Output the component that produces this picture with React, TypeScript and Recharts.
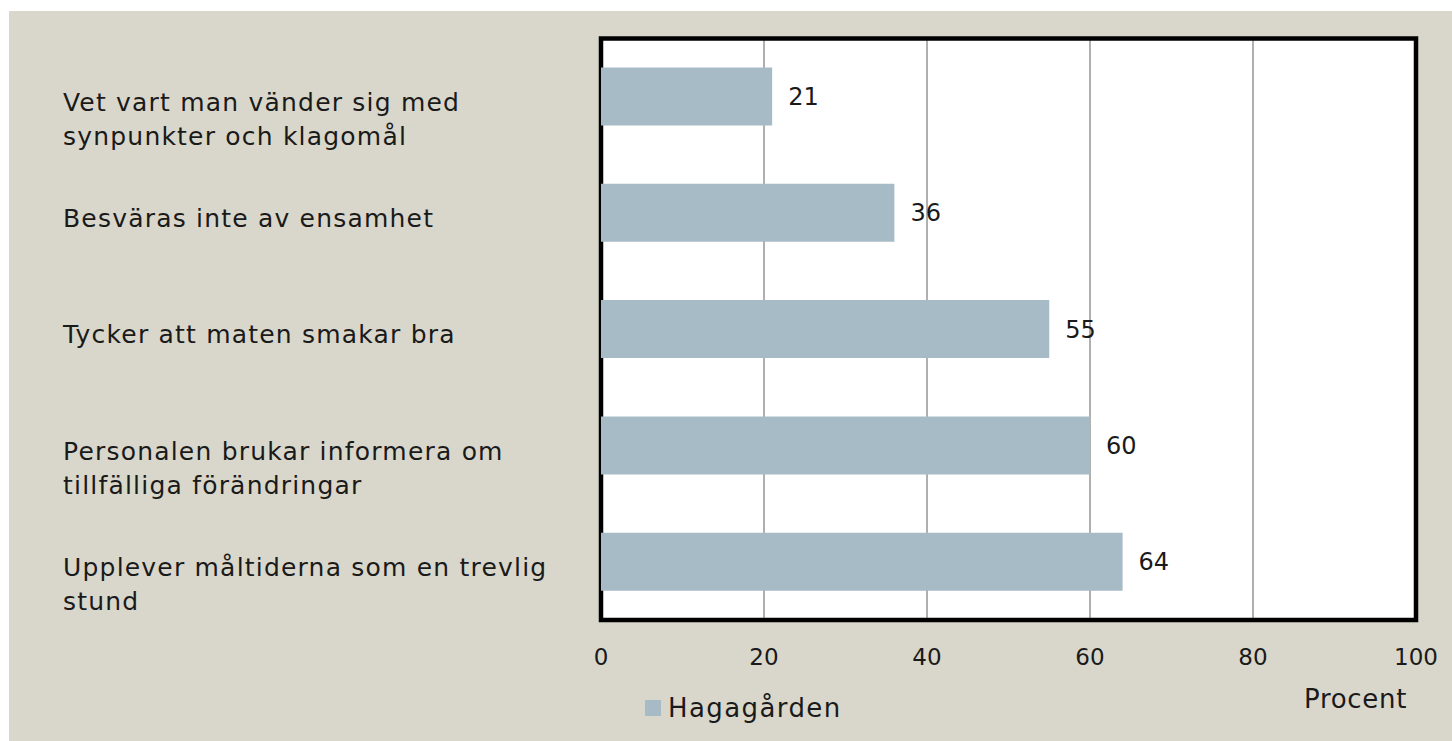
import React from "react";
import {
  BarChart,
  Bar,
  XAxis,
  YAxis,
  CartesianGrid,
  LabelList,
  ReferenceArea,
  Legend,
  Label,
} from "recharts";

const categories: string[] = [
  "Vet vart man vänder sig med\nsynpunkter och klagomål",
  "Besväras inte av ensamhet",
  "Tycker att maten smakar bra",
  "Personalen brukar informera om\ntillfälliga förändringar",
  "Upplever måltiderna som en trevlig\nstund",
];
const values: number[] = [21, 36, 55, 60, 64];
const xTicks: number[] = [0, 20, 40, 60, 80, 100];
const seriesName = "Hagagården";
const axisTitle = "Procent";

const data = categories.map((name, i) => ({ name, value: values[i] }));

const W = 1443;
const H = 730;
const PLOT_LEFT = 592;
const PLOT_RIGHT = 1407;
const PLOT_TOP = 27.5;
const PLOT_BOTTOM = 609;
const X_AXIS_H = 40;

const FONT = "'DejaVu Sans', sans-serif";
const TEXT = "#1a1a1a";
const BAR = "#a7bbc6";
const BG = "#d9d7cb";

const CatTick = (props: any) => {
  const { y, payload } = props;
  const lines = String(payload.value).split("\n");
  return (
    <text
      x={54}
      y={y + 5}
      fill={TEXT}
      fontFamily={FONT}
      fontSize={25}
      letterSpacing={1.2}
      textAnchor="start"
      dominantBaseline="central"
    >
      {lines.map((l, i) => (
        <tspan key={i} x={54} dy={i === 0 ? 0 : 34}>
          {l}
        </tspan>
      ))}
    </text>
  );
};

const NumTick = (props: any) => {
  const { x, payload } = props;
  return (
    <text
      x={x}
      y={PLOT_BOTTOM + 37}
      fill={TEXT}
      fontFamily={FONT}
      fontSize={23}
      textAnchor="middle"
      dominantBaseline="central"
    >
      {payload.value}
    </text>
  );
};

const LegendContent = () => (
  <div style={{ display: "flex", alignItems: "center", height: 30 }}>
    <span
      style={{
        display: "inline-block",
        width: 16,
        height: 16,
        background: BAR,
        marginRight: 7,
      }}
    />
    <span
      style={{
        fontFamily: FONT,
        fontSize: 26,
        letterSpacing: 1.4,
        color: TEXT,
        lineHeight: "30px",
      }}
    >
      {seriesName}
    </span>
  </div>
);

export default function App() {
  return (
    <div
      style={{
        position: "absolute",
        left: 9,
        top: 11,
        width: W,
        height: H,
        background: BG,
      }}
    >
      <BarChart
        width={W}
        height={H}
        data={data}
        layout="vertical"
        margin={{
          top: PLOT_TOP,
          right: W - PLOT_RIGHT,
          bottom: H - PLOT_BOTTOM - X_AXIS_H,
          left: 0,
        }}
      >
        <CartesianGrid
          horizontal={false}
          vertical={true}
          stroke="#969696"
          strokeWidth={1.5}
          fill="#ffffff"
        />
        <XAxis
          type="number"
          domain={[0, 100]}
          ticks={xTicks}
          axisLine={false}
          tickLine={false}
          height={X_AXIS_H}
          tick={<NumTick />}
          interval={0}
        >
          <Label
            content={() => (
              <text
                x={PLOT_RIGHT - 112}
                y={PLOT_BOTTOM + 79}
                fill={TEXT}
                fontFamily={FONT}
                fontSize={26}
                letterSpacing={0.7}
                textAnchor="start"
                dominantBaseline="central"
              >
                {axisTitle}
              </text>
            )}
          />
        </XAxis>
        <YAxis
          type="category"
          dataKey="name"
          width={PLOT_LEFT}
          axisLine={false}
          tickLine={false}
          interval={0}
          tick={<CatTick />}
        />
        <Bar
          dataKey="value"
          name={seriesName}
          fill={BAR}
          barSize={58}
          isAnimationActive={false}
        >
          <LabelList
            dataKey="value"
            position="right"
            offset={16}
            fill={TEXT}
            fontFamily={FONT}
            fontSize={24}
          />
        </Bar>
        <ReferenceArea
          x1={0}
          x2={100}
          fill="none"
          stroke="#000000"
          strokeWidth={4.5}
          ifOverflow="visible"
        />
        <Legend
          layout="horizontal"
          verticalAlign="middle"
          align="center"
          content={<LegendContent />}
          wrapperStyle={{ left: 636, top: 682, width: 300, height: 30 }}
        />
      </BarChart>
    </div>
  );
}
